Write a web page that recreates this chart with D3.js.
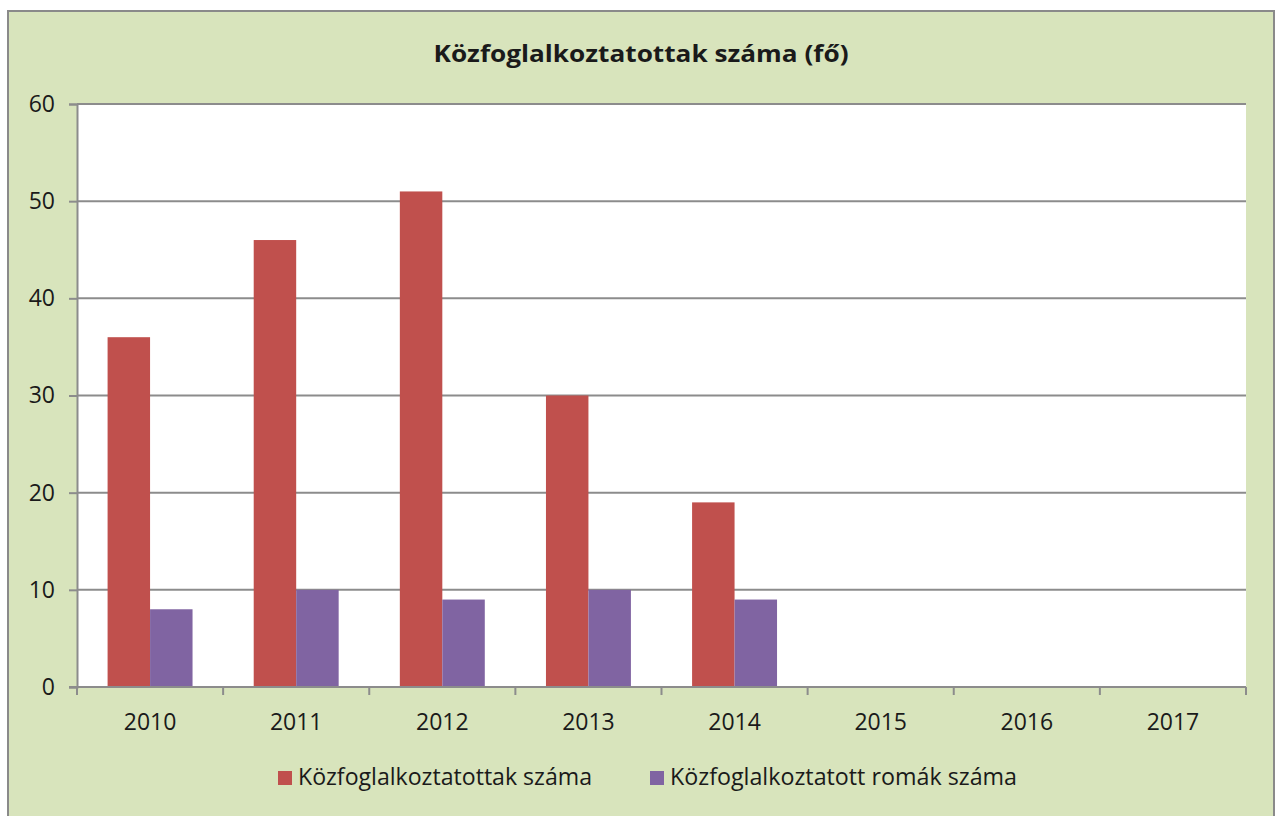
<!DOCTYPE html>
<html>
<head>
<meta charset="utf-8">
<script src="https://cdn.jsdelivr.net/npm/d3@7"></script>
<style>
  body { margin: 0; background: #fff; }
  text { font-family: "Open Sans", "Noto Sans", sans-serif; fill: #1a1a1a; }
</style>
</head>
<body>
<svg id="chart"></svg>
<script>
// Chart data
const years = ["2010", "2011", "2012", "2013", "2014", "2015", "2016", "2017"];
const seriesNames = ["Közfoglalkoztatottak száma", "Közfoglalkoztatott romák száma"];
const workers = [36, 46, 51, 30, 19, null, null, null];
const romaWorkers = [8, 10, 9, 10, 9, null, null, null];
const yTicks = [0, 10, 20, 30, 40, 50, 60];
const colors = ["#c0504d", "#8064a2"];

const width = 1276, height = 816;
const plot = { left: 77, right: 1246, top: 104, bottom: 687 };

const svg = d3.select("#chart")
  .attr("width", width)
  .attr("height", height);

// Outer chart frame (bottom edge runs off the picture)
svg.append("rect")
  .attr("x", 8)
  .attr("y", 11)
  .attr("width", 1266)
  .attr("height", 830)
  .attr("fill", "#d8e4bc")
  .attr("stroke", "#8a8a8a")
  .attr("stroke-width", 2);

// White plot area
svg.append("rect")
  .attr("x", plot.left)
  .attr("y", plot.top)
  .attr("width", plot.right - plot.left)
  .attr("height", plot.bottom - plot.top)
  .attr("fill", "#fff");

const x = d3.scaleBand()
  .domain(years)
  .range([plot.left, plot.right])
  .paddingInner(0)
  .paddingOuter(0);

const x1 = d3.scaleBand()
  .domain([0, 1])
  .range([0, x.bandwidth()])
  .paddingInner(0)
  .paddingOuter(0.72);

const y = d3.scaleLinear()
  .domain([0, 60])
  .range([plot.bottom, plot.top]);

// Gridlines
svg.append("g")
  .selectAll("line")
  .data(yTicks.filter(d => d > 0))
  .join("line")
  .attr("x1", plot.left)
  .attr("x2", plot.right)
  .attr("y1", d => y(d))
  .attr("y2", d => y(d))
  .attr("stroke", "#8c8c8c")
  .attr("stroke-width", 2);

// Bars
const rows = years.map((yr, i) => ({ year: yr, values: [workers[i], romaWorkers[i]] }));
const groups = svg.append("g")
  .selectAll("g")
  .data(rows)
  .join("g")
  .attr("transform", d => `translate(${x(d.year)},0)`);

groups.selectAll("rect")
  .data(d => d.values.map((v, k) => ({ v, k })).filter(e => e.v != null))
  .join("rect")
  .attr("x", e => x1(e.k))
  .attr("width", x1.bandwidth())
  .attr("y", e => y(e.v))
  .attr("height", e => y(0) - y(e.v))
  .attr("fill", e => colors[e.k]);

// Y axis
const yAxis = svg.append("g")
  .attr("transform", `translate(${plot.left},0)`)
  .call(d3.axisLeft(y).tickValues(yTicks).tickSize(8).tickPadding(14));
yAxis.select(".domain").attr("stroke", "#8c8c8c").attr("stroke-width", 2);
yAxis.selectAll(".tick line").attr("stroke", "#8c8c8c").attr("stroke-width", 2);
yAxis.selectAll(".tick text")
  .attr("font-size", 23)
  .attr("font-family", "Open Sans, sans-serif")
  .attr("fill", "#1a1a1a");

// X axis: ticks at category boundaries
const xAxis = svg.append("g")
  .attr("transform", `translate(0,${plot.bottom})`);
xAxis.append("line")
  .attr("x1", plot.left - 8)
  .attr("x2", plot.right)
  .attr("stroke", "#8c8c8c")
  .attr("stroke-width", 2);
xAxis.selectAll("line.tk")
  .data(years.concat(["end"]))
  .join("line")
  .attr("class", "tk")
  .attr("x1", (d, i) => plot.left + i * x.step())
  .attr("x2", (d, i) => plot.left + i * x.step())
  .attr("y1", 0)
  .attr("y2", 8)
  .attr("stroke", "#8c8c8c")
  .attr("stroke-width", 2);
xAxis.selectAll("text")
  .data(years)
  .join("text")
  .attr("x", d => x(d) + x.bandwidth() / 2)
  .attr("y", 43)
  .attr("text-anchor", "middle")
  .attr("font-size", 23)
  .text(d => d);

// Title
svg.append("text")
  .attr("x", 641)
  .attr("y", 62)
  .attr("text-anchor", "middle")
  .attr("font-size", 24)
  .attr("font-weight", "bold")
  .attr("textLength", 415)
  .attr("lengthAdjust", "spacingAndGlyphs")
  .text("Közfoglalkoztatottak száma (fő)");

// Legend
const legendX = [278, 650];
const legendW = [294, 347];
const legend = svg.append("g")
  .selectAll("g")
  .data(seriesNames)
  .join("g")
  .attr("transform", (d, i) => `translate(${legendX[i]},771)`);
legend.append("rect")
  .attr("x", 0)
  .attr("y", 0)
  .attr("width", 14)
  .attr("height", 14)
  .attr("fill", (d, i) => colors[i]);
legend.append("text")
  .attr("x", 20)
  .attr("y", 14)
  .attr("font-size", 23)
  .attr("textLength", (d, i) => legendW[i])
  .attr("lengthAdjust", "spacingAndGlyphs")
  .text(d => d);
</script>
</body>
</html>
